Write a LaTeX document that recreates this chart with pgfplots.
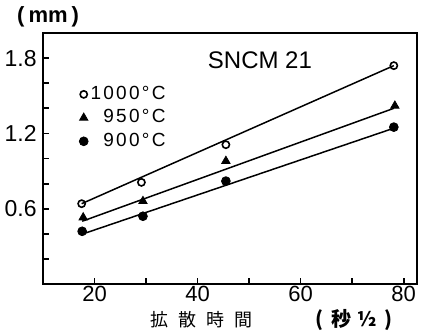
\documentclass[border=0pt]{standalone}
\usepackage{fontspec}
\setmainfont{Liberation Sans}
\newfontfamily\cjk{Noto Sans CJK JP}
\newfontfamily\legfont[LetterSpace=12]{Liberation Sans}
\usepackage{pgfplots}
\pgfplotsset{compat=1.18}
\begin{document}
\begin{tikzpicture}
\begin{axis}[
  scale only axis, width=187pt, height=125.5pt,
  xmin=10, xmax=82.6, ymin=0, ymax=2.0,
  axis line style={line width=1.1pt},
  xtick={20,40,60,80}, minor xtick={30,50,70},
  xticklabels={20,40,60,80},
  ytick={0.6,1.2,1.8}, minor ytick={0.2,0.4,0.8,1.0,1.4,1.6},
  yticklabels={0.6,1.2,1.8},
  tick align=inside, major tick length=3pt, minor tick length=3pt,
  every tick/.style={line width=0.9pt, black},
  xtick pos=bottom, ytick pos=left,
  yticklabel style={font=\fontsize{11.5}{12}\selectfont, inner xsep=3pt},
  xticklabel style={font=\fontsize{11}{12}\selectfont, inner ysep=1pt},
  /pgf/number format/assume math mode=true,
  legend style={at={(axis description cs:0.08,0.815)}, anchor=north west,
    draw=none, fill=none, font=\legfont\fontsize{9.5}{10}\selectfont,
    row sep=1.2pt, nodes={inner sep=1.2pt}},
  legend cell align=right,
  legend image code/.code={\draw[#1] plot coordinates {(0.1cm,0cm)};},
  clip=false,
]
\addplot[only marks, mark=o, mark size=1.8pt, mark options={fill=white, line width=0.8pt}] coordinates {(17.5,0.64) (29.1,0.81) (45.5,1.11) (78.1,1.74)};
\addlegendentry{1000°C}
\addplot[only marks, mark=triangle*, mark size=2.4pt, fill=black] coordinates {(17.8,0.53) (29.4,0.66) (45.5,0.98) (78.3,1.42)};
\addlegendentry{950°C}
\addplot[only marks, mark=*, mark size=2.2pt, fill=black] coordinates {(17.6,0.42) (29.4,0.54) (45.5,0.82) (78.1,1.25)};
\addlegendentry{900°C}
\addplot[forget plot, line width=0.75pt] coordinates {(17.5,0.64) (78.1,1.74)};
\addplot[forget plot, line width=0.75pt] coordinates {(17.6,0.50) (78.1,1.40)};
\addplot[forget plot, line width=0.75pt] coordinates {(17.8,0.40) (78.0,1.24)};
\node[font=\fontsize{12}{13}\selectfont] at (axis description cs:0.58,0.892) {SNCM 21};
\node[anchor=west, inner xsep=0pt, font=\bfseries\fontsize{11}{12}\selectfont] at (axis description cs:-0.07,1.065) {(\hspace{2pt}mm\hspace{2pt})};
\node[font=\cjk\fontsize{9}{10}\selectfont] at (axis description cs:0.4225,-0.143) {拡\hspace{5pt}散\hspace{5pt}時\hspace{5pt}間};
\node[font=\cjk\bfseries\fontsize{10}{11}\selectfont] at (axis description cs:0.832,-0.143) {(\hspace{4pt}秒\hspace{3pt}½\hspace{4pt})};
\coordinate (bl) at (axis description cs:-0.115,-0.191);
\coordinate (tr) at (axis description cs:1.0107,1.1315);
\end{axis}
\pgfresetboundingbox
\useasboundingbox (bl) rectangle (tr);
\end{tikzpicture}
\end{document}
